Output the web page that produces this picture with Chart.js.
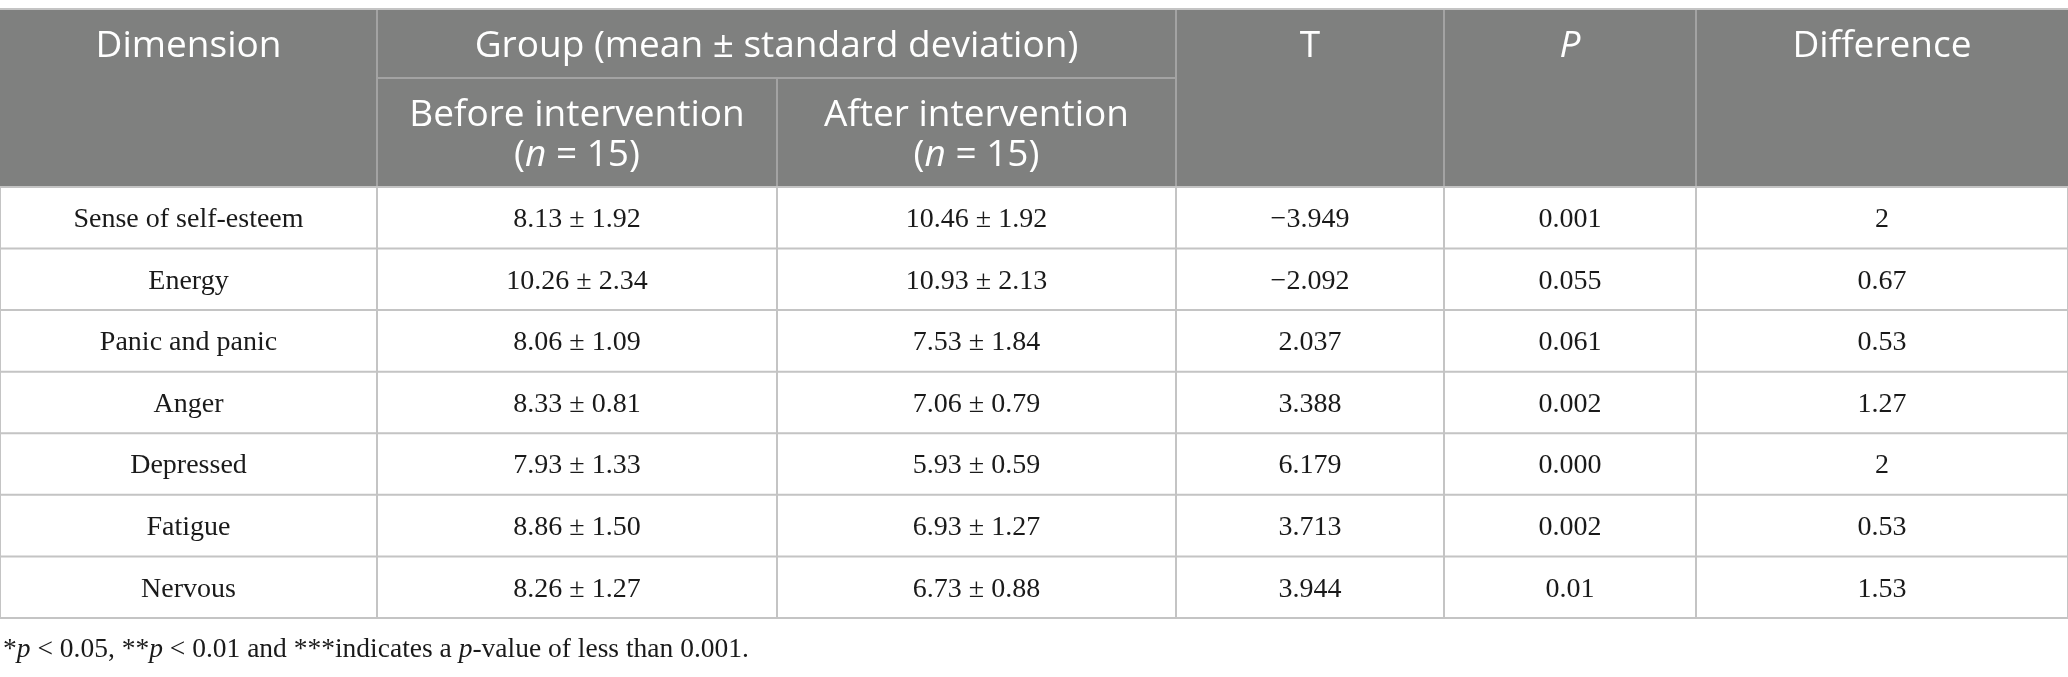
<!DOCTYPE html>
<html>
<head>
<meta charset="utf-8">
<script src="https://cdn.jsdelivr.net/npm/chart.js@4.4.1/dist/chart.umd.min.js"></script>
<style>
  html, body { margin: 0; padding: 0; background: #fff; }
  #wrap { width: 2068px; height: 677px; position: relative; }
</style>
</head>
<body>
<div id="wrap"><canvas id="tableChart"></canvas></div>
<script>
// table values
const dimensions = ["Sense of self-esteem", "Energy", "Panic and panic", "Anger", "Depressed", "Fatigue", "Nervous"];
const beforeMean = [8.13, 10.26, 8.06, 8.33, 7.93, 8.86, 8.26];
const beforeSd = [1.92, 2.34, 1.09, 0.81, 1.33, 1.50, 1.27];
const afterMean = [10.46, 10.93, 7.53, 7.06, 5.93, 6.93, 6.73];
const afterSd = [1.92, 2.13, 1.84, 0.79, 0.59, 1.27, 0.88];
const tValues = [-3.949, -2.092, 2.037, 3.388, 6.179, 3.713, 3.944];
const pValues = ["0.001", "0.055", "0.061", "0.002", "0.000", "0.002", "0.01"];
const differences = ["2", "0.67", "0.53", "1.27", "2", "0.53", "1.53"];

const groupTitle = "Group (mean \u00b1 standard deviation)";
const subHeads = ["Before intervention", "After intervention"];
const footnote = [["*", false], ["p", true], [" < 0.05, **", false], ["p", true], [" < 0.01 and ***indicates a ", false], ["p", true], ["-value of less than 0.001.", false]];

// layout (column widths in px units, row heights in data-row units)
const colWidths = [377, 400, 399, 268, 252, 372];
const headRows = [1.12, 1.77];

const colEdges = [0];
colWidths.forEach(w => colEdges.push(colEdges[colEdges.length - 1] + w));
const headBottom = headRows[0] + headRows[1];
const totalRows = headBottom + dimensions.length;

const SANS = '"Open Sans", sans-serif';
const SERIF = '"Liberation Serif", "DejaVu Serif", serif';

// 数値の整形
const fmtMs = (m, s) => m.toFixed(2) + " \u00b1 " + s.toFixed(2);
const fmtT = t => (t < 0 ? "\u2212" : "") + Math.abs(t).toFixed(3);

const cellText = dimensions.map((d, i) => [
    d,
    fmtMs(beforeMean[i], beforeSd[i]),
    fmtMs(afterMean[i], afterSd[i]),
    fmtT(tValues[i]),
    pValues[i],
    differences[i]
]);

// 書式付きテキスト（イタリック混じり）を描く
function drawRich(ctx, segs, x, y, size, family, align) {
    let total = 0;
    const widths = segs.map(s => {
        ctx.font = (s[1] ? "italic " : "") + size + "px " + family;
        const w = ctx.measureText(s[0]).width;
        total += w;
        return w;
    });
    let cx = align === "left" ? x : x - total / 2;
    ctx.textAlign = "left";
    segs.forEach((s, k) => {
        ctx.font = (s[1] ? "italic " : "") + size + "px " + family;
        ctx.fillText(s[0], cx, y);
        cx += widths[k];
    });
}

const tablePlugin = {
    id: "tablePlugin",
    afterDraw(chart) {
        const ctx = chart.ctx;
        const xs = chart.scales.x, ys = chart.scales.y;
        const px = v => xs.getPixelForValue(v);
        const py = v => ys.getPixelForValue(v);
        const colMid = c => (px(colEdges[c]) + px(colEdges[c + 1])) / 2;
        ctx.save();

        // header fill
        ctx.fillStyle = "#7f807f";
        ctx.fillRect(px(0), py(0), px(colEdges[6]) - px(0), py(headBottom) - py(0));

        // header lines
        ctx.strokeStyle = "#a3a3a3";
        ctx.lineWidth = 2;
        ctx.beginPath();
        ctx.moveTo(px(colEdges[1]), py(headRows[0]));
        ctx.lineTo(px(colEdges[3]), py(headRows[0]));
        [1, 3, 4, 5].forEach(c => {
            ctx.moveTo(px(colEdges[c]), py(0));
            ctx.lineTo(px(colEdges[c]), py(headBottom));
        });
        ctx.moveTo(px(colEdges[2]), py(headRows[0]));
        ctx.lineTo(px(colEdges[2]), py(headBottom));
        ctx.stroke();

        // body grid
        ctx.strokeStyle = "#c4c4c4";
        ctx.lineWidth = 2;
        ctx.beginPath();
        ctx.moveTo(px(0), py(0));
        ctx.lineTo(px(colEdges[6]), py(0));
        for (let r = 0; r <= dimensions.length; r++) {
            ctx.moveTo(px(0), py(headBottom + r));
            ctx.lineTo(px(colEdges[6]), py(headBottom + r));
        }
        colEdges.forEach(e => {
            ctx.moveTo(px(e), py(headBottom));
            ctx.lineTo(px(e), py(totalRows));
        });
        ctx.stroke();

        // header text
        ctx.fillStyle = "#ffffff";
        ctx.textBaseline = "middle";
        const hSize = 37;
        const y1 = py(headRows[0] / 2) + 3;
        drawRich(ctx, [["Dimension", false]], colMid(0), y1, hSize, SANS);
        drawRich(ctx, [[groupTitle, false]], (px(colEdges[1]) + px(colEdges[3])) / 2, y1, hSize, SANS);
        drawRich(ctx, [["T", false]], colMid(3), y1, hSize, SANS);
        drawRich(ctx, [["P", true]], colMid(4), y1, hSize, SANS);
        drawRich(ctx, [["Difference", false]], colMid(5), y1, hSize, SANS);
        const mid2 = headRows[0] + headRows[1] / 2;
        subHeads.forEach((s, k) => {
            drawRich(ctx, [[s, false]], colMid(k + 1), py(mid2 - 0.33) + 3, hSize, SANS);
            drawRich(ctx, [["(", false], ["n", true], [" = 15)", false]], colMid(k + 1), py(mid2 + 0.33) + 3, hSize, SANS);
        });

        // body text
        ctx.fillStyle = "#1a1a1a";
        cellText.forEach((row, r) => {
            const y = py(headBottom + r + 0.5) + 2;
            row.forEach((t, c) => drawRich(ctx, [[t, false]], colMid(c), y, 28, SERIF));
        });

        // footnote
        drawRich(ctx, footnote, px(0) + 3, py(totalRows) + 32, 27.5, SERIF, "left");
        ctx.restore();
    }
};

new Chart(document.getElementById("tableChart"), {
    type: "scatter",
    data: { datasets: [] },
    options: {
        responsive: true,
        maintainAspectRatio: false,
        animation: false,
        layout: { padding: { left: 0, right: 0, top: 9, bottom: 59 } },
        plugins: { legend: { display: false }, tooltip: { enabled: false } },
        scales: {
            x: { type: "linear", display: false, min: 0, max: colEdges[6] },
            y: { type: "linear", display: false, reverse: true, min: 0, max: totalRows }
        }
    },
    plugins: [tablePlugin]
});
</script>
</body>
</html>
